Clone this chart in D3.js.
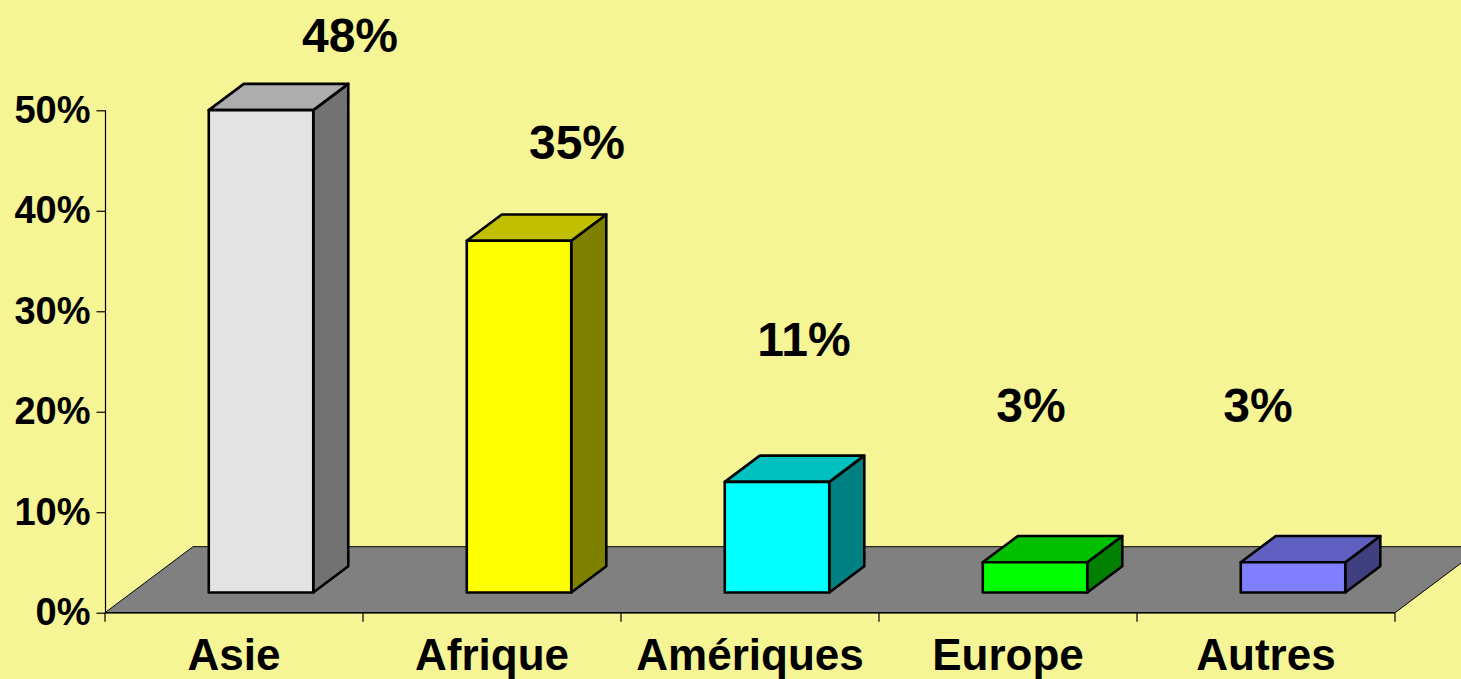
<!DOCTYPE html>
<html>
<head>
<meta charset="utf-8">
<script src="https://cdn.jsdelivr.net/npm/d3@7"></script>
<style>
  html, body { margin: 0; padding: 0; background: #F5F596; }
  svg { display: block; font-family: "Liberation Sans", Arial, sans-serif; font-weight: bold; }
</style>
</head>
<body>
<svg id="chart" width="1461" height="679"></svg>
<script>
// Répartition par région
const categories = ["Asie", "Afrique", "Amériques", "Europe", "Autres"];
const values = [48, 35, 11, 3, 3];
const valueLabels = ["48%", "35%", "11%", "3%", "3%"];
const yTicks = [0, 10, 20, 30, 40, 50];
const frontColors = ["#E3E3E3", "#FFFF00", "#00FFFF", "#00FF00", "#8080FF"];
const topColors = ["#ADADAD", "#C0C000", "#00C0C0", "#00C000", "#6060C0"];
const sideColors = ["#727272", "#808000", "#008080", "#008000", "#404080"];

const W = 1461, H = 679;
const svg = d3.select("#chart");

svg.append("rect").attr("width", W).attr("height", H).attr("fill", "#F5F596");

const x = d3.scaleBand().domain(categories).range([105, 1395]);
const y = d3.scaleLinear().domain([0, 50]).range([612.7, 110.3]);

// oblique depth vector for the floor and where the bars sit along it
const depth = { dx: 88, dy: -66 };
const barFront = 0.307, barBack = 0.705;
const barRatio = 0.405;

// floor
const y0 = y(0);
svg.append("polygon")
  .attr("points", [
    [105, y0], [1395, y0], [1395 + depth.dx, y0 + depth.dy], [105 + depth.dx, y0 + depth.dy]
  ].map(p => p.join(",")).join(" "))
  .attr("fill", "#808080")
  .attr("stroke", "#000")
  .attr("stroke-width", 1);

// y axis
const yAxis = d3.axisLeft(y).tickValues(yTicks).tickSize(9).tickPadding(6)
  .tickFormat(d => d + "%");
const gy = svg.append("g").attr("transform", "translate(105.5,0)").call(yAxis);
gy.select(".domain").attr("stroke", "#000").attr("stroke-width", 1.2).attr("d", `M0,${y(50)}V${y0}`);
gy.selectAll(".tick line").attr("stroke", "#000").attr("stroke-width", 1.2);
gy.selectAll(".tick text")
  .attr("font-size", 38).attr("font-weight", "bold")
  .attr("font-family", "'Liberation Sans', Arial, sans-serif")
  .attr("fill", "#000").attr("dy", "0.32em");

// x axis
const xEdges = categories.map(c => x(c)).concat([x.range()[1]]);
const gx = svg.append("g");
gx.append("line")
  .attr("x1", 105).attr("x2", 1395).attr("y1", y0).attr("y2", y0)
  .attr("stroke", "#000").attr("stroke-width", 1.5);
gx.selectAll("line.tick").data(xEdges).join("line")
  .attr("class", "tick")
  .attr("x1", d => d).attr("x2", d => d)
  .attr("y1", y0).attr("y2", y0 + 9)
  .attr("stroke", "#000").attr("stroke-width", 1.2);
gx.selectAll("text").data(categories).join("text")
  .attr("x", d => x(d) + x.bandwidth() / 2)
  .attr("y", 670)
  .attr("text-anchor", "middle")
  .attr("font-size", 44)
  .attr("fill", "#000")
  .text(d => d);

// 3D bars
const bw = x.bandwidth() * barRatio;
const fdx = depth.dx * barFront, fdy = depth.dy * barFront;
const bdx = depth.dx * (barBack - barFront), bdy = depth.dy * (barBack - barFront);

const bars = svg.append("g").selectAll("g").data(categories).join("g");
bars.each(function (c, i) {
  const g = d3.select(this);
  const xl = x(c) + x.bandwidth() / 2 - bw / 2 + fdx;
  const xr = xl + bw;
  const yb = y(0) + fdy;
  const yt = y(values[i]) + fdy;
  const pts = a => a.map(p => p.join(",")).join(" ");
  g.append("polygon")
    .attr("points", pts([[xr, yb], [xr + bdx, yb + bdy], [xr + bdx, yt + bdy], [xr, yt]]))
    .attr("fill", sideColors[i]);
  g.append("polygon")
    .attr("points", pts([[xl, yt], [xl + bdx, yt + bdy], [xr + bdx, yt + bdy], [xr, yt]]))
    .attr("fill", topColors[i]);
  g.append("rect")
    .attr("x", xl).attr("y", yt).attr("width", bw).attr("height", yb - yt)
    .attr("fill", frontColors[i]);
  g.selectAll("polygon, rect")
    .attr("stroke", "#000").attr("stroke-width", 2.6).attr("stroke-linejoin", "round");
});

// value labels, placed along the perspective of the chart
const lx = d3.scalePoint().domain(categories).range([350, 1258]);
const ly = d3.scaleLinear().domain([0, 48]).range([446.8, 52]);
svg.append("g").selectAll("text").data(categories).join("text")
  .attr("x", d => lx(d))
  .attr("y", (d, i) => ly(values[i]))
  .attr("text-anchor", "middle")
  .attr("font-size", 48)
  .attr("fill", "#000")
  .text((d, i) => valueLabels[i]);
</script>
</body>
</html>
